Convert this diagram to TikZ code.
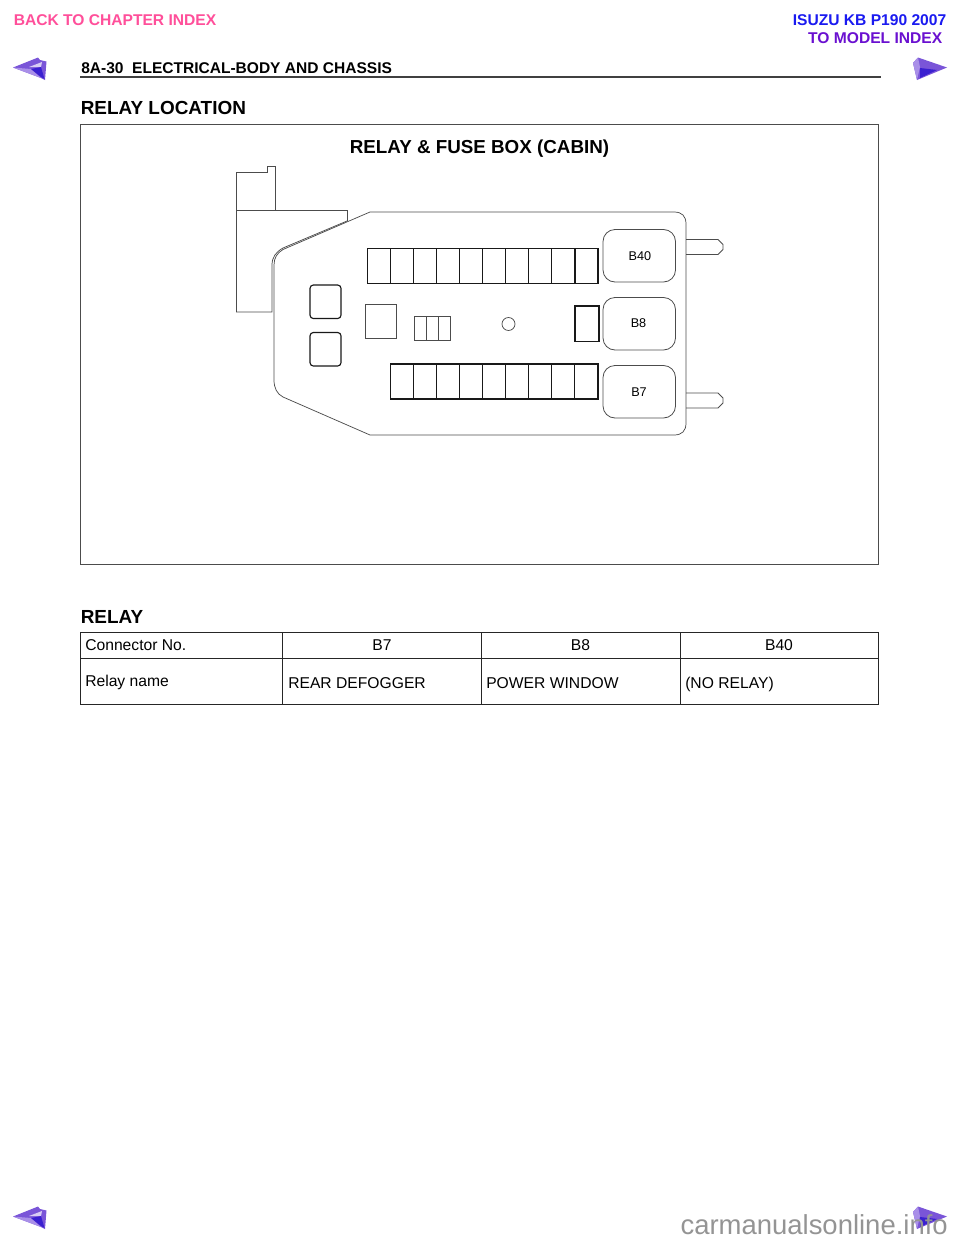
\documentclass[tikz,border=0pt]{standalone}
\usepackage{fontspec}
\setmainfont{Liberation Sans}
\definecolor{backpink}{HTML}{FF4F9A}
\definecolor{isuzublue}{HTML}{1A1AF0}
\definecolor{modelviolet}{HTML}{6A10D0}
\definecolor{arrowmid}{HTML}{7A55D8}
\definecolor{arrowdark}{HTML}{3A20D0}
\definecolor{arrowlight}{HTML}{D8CCF4}
\definecolor{arrowsoft}{HTML}{A98FE8}
\tikzset{
  fusebox/.style={draw=black!90,line width=0.85pt},
  thinbox/.style={draw=black!70,line width=0.55pt},
  sidebox/.style={draw=black!70,line width=0.6pt,rounded corners=9pt},
  boxlabel/.style={inner sep=0pt,font=\fontsize{9.5}{11}\selectfont},
  celltext/.style={inner sep=0pt,anchor=base west,font=\fontsize{11.75}{14}\selectfont},
  heading/.style={inner sep=0pt,anchor=base west,font=\fontsize{14.2}{18}\selectfont\bfseries},
  indexlink/.style={inner sep=0pt,font=\fontsize{11.7}{13}\selectfont\bfseries},
  tablerule/.style={draw=black!85,line width=0.75pt},
}
\begin{document}
\begin{tikzpicture}[x=0.75pt,y=-0.75pt]
\useasboundingbox (0,0) rectangle (960,1242);
% page head
\node[indexlink,anchor=base west,text=backpink] (backindex) at (13.5,25) {BACK TO CHAPTER INDEX};
\node[indexlink,anchor=base east,text=isuzublue] (modelname) at (946.5,25) {ISUZU KB P190 2007};
\node[indexlink,anchor=base east,text=modelviolet] (modelindex) at (942.5,43) {TO MODEL INDEX};
\node[inner sep=0pt,anchor=base west,font=\fontsize{11.65}{14}\selectfont\bfseries] (pagehead) at (81,73) {8A-30\ \ ELECTRICAL-BODY AND CHASSIS};
\draw[line width=1pt,black!75](80,77)--(881,77);
% arrows
\foreach \ay in {0,1149}{
\fill[arrowmid,shift={(0,\ay)}](13,67.5)--(38,57.5)--(40,60)--(46.5,61.5)--(45,80)--(41,78)--cycle;
\fill[arrowsoft,shift={(0,\ay)}](13,67.5)--(31,69)--(41,78)--cycle;
\fill[arrowlight,shift={(0,\ay)}](29,67)--(42,62)--(41,67)--cycle;
\fill[arrowdark,shift={(0,\ay)}](31,69)--(41,67)--(44.5,79)--(41,77)--cycle;
}
\foreach \ay in {0,1149}{
\fill[arrowmid,shift={(0,\ay)}](947,67.5)--(918,57.5)--(913,63)--(917,80)--cycle;
\fill[arrowsoft,shift={(0,\ay)}](918,57.5)--(913,63)--(917,80)--(920,67)--cycle;
\fill[arrowdark,shift={(0,\ay)}](920,68)--(937,70)--(920,78)--cycle;
}
% location panel
\node[heading] (locationhead) at (80.5,114) {RELAY LOCATION};
\draw[thinbox](80.5,124.5) rectangle (878.5,564.5);
\node[inner sep=0pt,font=\fontsize{14.1}{16}\selectfont\bfseries] (boxtitle) at (479.5,148.5) {RELAY \& FUSE BOX (CABIN)};
% bracket behind the box
\draw[thinbox](236,312)--(236,172)--(267,172)--(267,166)--(275,166)--(275,210);
\draw[thinbox](236,210)--(347,210)--(347,221);
\draw[thinbox](236,312)--(272,312)--(272,265) .. controls (272,257) and (276,252) .. (283,248)--(347,221);
% box outline
\draw[thinbox](370,212)--(283,249.5) .. controls (277,253) and (274,258) .. (274,265)--(274,380) .. controls (274,388) and (277,394) .. (283,397)--(370,435)--(674,435) .. controls (682,435) and (686,431) .. (686,423)--(686,224) .. controls (686,216) and (682,212) .. (674,212)--cycle;
% tabs
\foreach \ty in {239.5,393}{
\draw[thinbox](686,\ty)--(718,\ty)--(723,\ty+5)--(723,\ty+10)--(718,\ty+15)--(686,\ty+15);
}
% fuse rows
\draw[fusebox](367.5,248.5) rectangle (598,283.5);
\foreach \i in {1,...,9}{
\draw[fusebox](367.5+23.05*\i,248.5)--(367.5+23.05*\i,283.5);
}
\draw[fusebox](390.5,364) rectangle (598,399);
\foreach \i in {1,...,8}{
\draw[fusebox](390.5+23.05*\i,364)--(390.5+23.05*\i,399);
}
% small parts
\draw[fusebox,rounded corners=2.5pt](310,285) rectangle (341,318.5);
\draw[fusebox,rounded corners=2.5pt](310,332.5) rectangle (341,366);
\draw[thinbox](365,304.5) rectangle (396,338);
\draw[thinbox](414.5,316.5) rectangle (450.5,340.5);
\draw[thinbox](426.5,316.5)--(426.5,340.5);
\draw[thinbox](438.5,316.5)--(438.5,340.5);
\draw[thinbox](508.5,324) circle (6.5);
\draw[fusebox](575,306) rectangle (599,341.5);
% connectors
\draw[sidebox](603,229.5) rectangle (675.5,282);
\node[boxlabel] (bforty) at (640,256.5) {B40};
\draw[sidebox](603,297.5) rectangle (675.5,350);
\node[boxlabel] (beight) at (638.5,323) {B8};
\draw[sidebox](603,365.5) rectangle (675.5,418);
\node[boxlabel] (bseven) at (639,392) {B7};
% relay table
\node[heading] (relayhead) at (80.5,623) {RELAY};
\draw[tablerule](80,632) rectangle (878,704);
\draw[tablerule](80,658.5)--(878,658.5);
\foreach \cx in {282,481,680}{
\draw[tablerule](\cx,632)--(\cx,704);
}
\node[celltext] (connno) at (85,650) {Connector No.};
\node[celltext,anchor=base] (cellbseven) at (382,650) {B7};
\node[celltext,anchor=base] (cellbeight) at (580.5,650) {B8};
\node[celltext,anchor=base] (cellbforty) at (779,650) {B40};
\node[celltext] (relayname) at (85,686) {Relay name};
\node[celltext] (defogger) at (288,688) {REAR DEFOGGER};
\node[celltext] (window) at (486,688) {POWER WINDOW};
\node[celltext] (norelay) at (685,688) {(NO RELAY)};
% watermark
\node[inner sep=0pt,anchor=base east,text=black!42,font=\fontsize{20.6}{26}\selectfont] (watermark) at (948,1234.5) {carmanualsonline.info};
\end{tikzpicture}
\end{document}
